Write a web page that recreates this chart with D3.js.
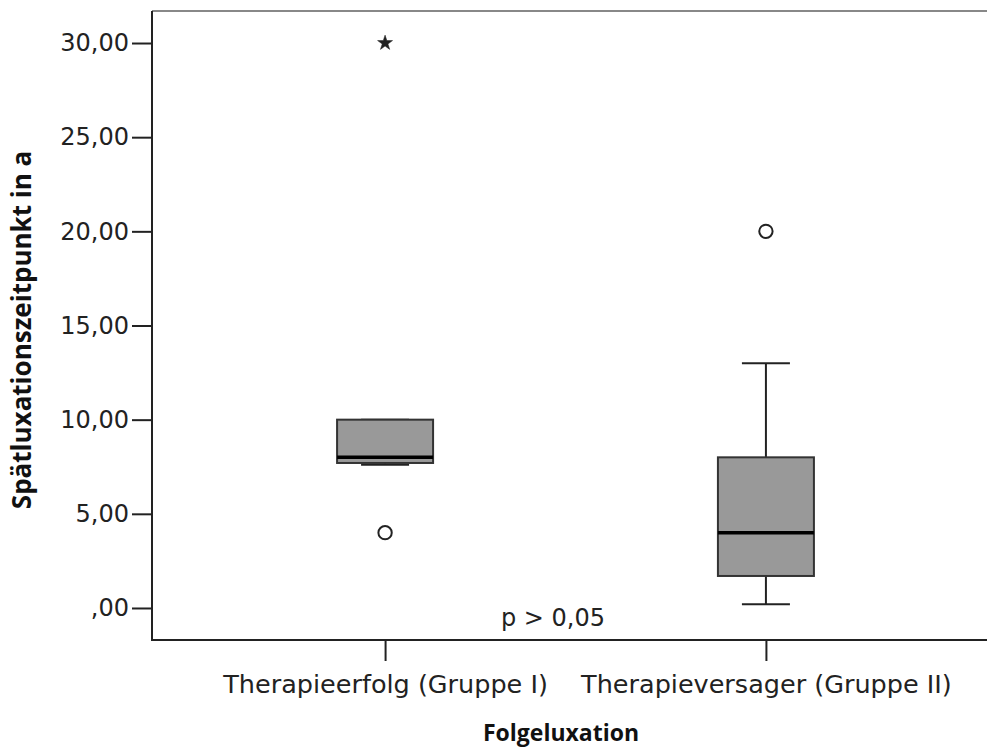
<!DOCTYPE html>
<html>
<head>
<meta charset="utf-8">
<style>
  body { margin: 0; background: #fff; }
  .tick text { font-family: "DejaVu Sans", sans-serif; font-size: 24px; fill: #222; }
  .xlab .tick text { font-size: 25.5px; }
  .title { font-family: "Open Sans", sans-serif; font-weight: bold; font-size: 23px; fill: #111; }
</style>
</head>
<body>
<svg width="987" height="749"></svg>
<script src="https://cdn.jsdelivr.net/npm/d3@7"></script>
<script>

    // values
    var categories = ["Therapieerfolg (Gruppe I)", "Therapieversager (Gruppe II)"];
    var whiskerLow  = [7.6, 0.2];
    var q1          = [7.7, 1.7];
    var median      = [8, 4];
    var q3          = [10, 8];
    var whiskerHigh = [10, 13];
    var outliers = [
        {cat: 0, value: 4,  kind: "circle"},
        {cat: 0, value: 30, kind: "star"},
        {cat: 1, value: 20, kind: "circle"}
    ];
    var yTicks = [0, 5, 10, 15, 20, 25, 30];
    var yTickLabels = [",00", "5,00", "10,00", "15,00", "20,00", "25,00", "30,00"];

    var svg = d3.select("svg"),
        plotLeft = 152, plotTop = 11, plotBottom = 640, plotRight = 999;

    var y = d3.scaleLinear()
        .domain([-1.7, 31.7])
        .range([plotBottom, plotTop]);

    var x = d3.scalePoint()
        .domain(categories)
        .range([plotLeft, plotRight])
        .padding(0.612);

    var boxW = 96, capW = 48;

    // frame top
    svg.append("line")
        .attr("x1", plotLeft).attr("x2", 987).attr("y1", plotTop).attr("y2", plotTop)
        .attr("stroke", "#888").attr("stroke-width", 2);

    // axes
    var yAxis = svg.append("g")
        .attr("transform", "translate(" + plotLeft + ",0)")
        .call(d3.axisLeft(y)
            .tickValues(yTicks)
            .tickSize(20)
            .tickPadding(3)
            .tickFormat(function(d, i) { return yTickLabels[i]; }));

    var xAxis = svg.append("g")
        .attr("class", "xlab")
        .attr("transform", "translate(0," + plotBottom + ")")
        .call(d3.axisBottom(x).tickSize(21).tickPadding(10));

    [yAxis, xAxis].forEach(function(g) {
        g.select(".domain").remove();
        g.selectAll(".tick line").attr("stroke", "#222").attr("stroke-width", 2);
    });
    xAxis.selectAll(".tick text").attr("dy", "0.85em");

    svg.append("path")
        .attr("d", "M" + plotLeft + "," + plotTop + "V" + plotBottom + "H987")
        .attr("fill", "none")
        .attr("stroke", "#222")
        .attr("stroke-width", 2);

    // boxes
    var boxes = svg.append("g")
      .selectAll("g")
      .data(categories)
      .enter().append("g");

    boxes.append("line")
        .attr("x1", function(d) { return x(d); })
        .attr("x2", function(d) { return x(d); })
        .attr("y1", function(d, i) { return y(whiskerHigh[i]); })
        .attr("y2", function(d, i) { return y(whiskerLow[i]); })
        .attr("stroke", "#222").attr("stroke-width", 2);

    boxes.selectAll(".cap")
        .data(function(d, i) { return [{c: d, v: whiskerLow[i]}, {c: d, v: whiskerHigh[i]}]; })
        .enter().append("line")
        .attr("class", "cap")
        .attr("x1", function(d) { return x(d.c) - capW / 2; })
        .attr("x2", function(d) { return x(d.c) + capW / 2; })
        .attr("y1", function(d) { return y(d.v); })
        .attr("y2", function(d) { return y(d.v); })
        .attr("stroke", "#222").attr("stroke-width", 2);

    boxes.append("rect")
        .attr("x", function(d) { return x(d) - boxW / 2; })
        .attr("width", boxW)
        .attr("y", function(d, i) { return y(q3[i]); })
        .attr("height", function(d, i) { return y(q1[i]) - y(q3[i]); })
        .attr("fill", "#999")
        .attr("stroke", "#333")
        .attr("stroke-width", 2);

    boxes.append("line")
        .attr("x1", function(d) { return x(d) - boxW / 2; })
        .attr("x2", function(d) { return x(d) + boxW / 2; })
        .attr("y1", function(d, i) { return y(median[i]); })
        .attr("y2", function(d, i) { return y(median[i]); })
        .attr("stroke", "#000").attr("stroke-width", 3.5);

    // outliers
    svg.selectAll(".out")
        .data(outliers)
        .enter().append("path")
        .attr("class", "out")
        .attr("transform", function(d) { return "translate(" + x(categories[d.cat]) + "," + y(d.value) + ")"; })
        .attr("d", function(d) {
            return d.kind === "star"
                ? d3.symbol().type(d3.symbolStar).size(70)()
                : d3.symbol().type(d3.symbolCircle).size(140)();
        })
        .attr("fill", function(d) { return d.kind === "star" ? "#222" : "none"; })
        .attr("stroke", "#222")
        .attr("stroke-width", function(d) { return d.kind === "star" ? 0.5 : 2; });

    // texts
    svg.append("text")
        .attr("x", 553).attr("y", 626)
        .attr("text-anchor", "middle")
        .style("font-family", "DejaVu Sans").style("font-size", "24px").style("fill", "#222")
        .text("p > 0,05");

    svg.append("text")
        .attr("class", "title")
        .attr("x", 561).attr("y", 741)
        .attr("text-anchor", "middle")
        .text("Folgeluxation");

    svg.append("text")
        .attr("class", "title")
        .attr("transform", "translate(31,330) rotate(-90)")
        .attr("text-anchor", "middle")
        .style("font-size", "26px")
        .text("Spätluxationszeitpunkt in a");

</script>
</body>
</html>
